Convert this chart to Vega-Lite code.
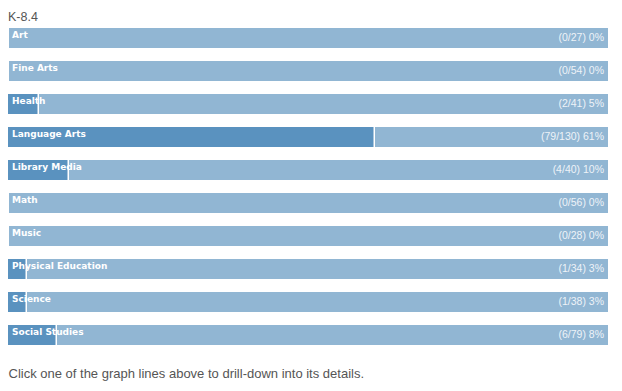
{
  "$schema": "https://vega.github.io/schema/vega-lite/v6.json",
  "autosize": "none",
  "width": 600,
  "height": 317,
  "padding": {"left": 8, "top": 28, "right": 14, "bottom": 46},
  "background": "white",
  "title": {
    "text": "K-8.4",
    "anchor": "start",
    "frame": "group",
    "font": "Liberation Sans",
    "fontSize": 12.5,
    "fontWeight": "normal",
    "color": "#555555",
    "baseline": "alphabetic",
    "offset": 9,
    "dy": 15
  },
  "config": {"view": {"stroke": null}},
  "data": {
    "values": [
      {"subject": "Art", "correct": 0, "total": 27, "pct": 0},
      {"subject": "Fine Arts", "correct": 0, "total": 54, "pct": 0},
      {"subject": "Health", "correct": 2, "total": 41, "pct": 5},
      {"subject": "Language Arts", "correct": 79, "total": 130, "pct": 61},
      {"subject": "Library Media", "correct": 4, "total": 40, "pct": 10},
      {"subject": "Math", "correct": 0, "total": 56, "pct": 0},
      {"subject": "Music", "correct": 0, "total": 28, "pct": 0},
      {"subject": "Physical Education", "correct": 1, "total": 34, "pct": 3},
      {"subject": "Science", "correct": 1, "total": 38, "pct": 3},
      {"subject": "Social Studies", "correct": 6, "total": 79, "pct": 8}
    ]
  },
  "encoding": {
    "y": {
      "field": "subject",
      "type": "nominal",
      "sort": null,
      "scale": {"paddingInner": 0.3939, "paddingOuter": 0},
      "axis": null
    }
  },
  "layer": [
    {
      "mark": {"type": "bar", "color": "#91b6d3"},
      "encoding": {
        "x": {
          "datum": 100,
          "type": "quantitative",
          "scale": {"domain": [0, 100], "nice": false, "zero": true},
          "axis": {
            "domain": false,
            "ticks": false,
            "labels": false,
            "grid": false,
            "title": "Click one of the graph lines above to drill-down into its details.",
            "titleAnchor": "start",
            "titleAlign": "left",
            "titleFont": "Liberation Sans",
            "titleFontSize": 13,
            "titleFontWeight": "normal",
            "titleColor": "#555555",
            "titleBaseline": "alphabetic",
            "titleX": 0,
            "titleY": 32
          }
        }
      }
    },
    {
      "mark": {"type": "bar", "color": "#5a92bf"},
      "encoding": {"x": {"field": "pct", "type": "quantitative"}}
    },
    {
      "mark": {"type": "bar", "fill": "white", "stroke": "white", "strokeWidth": 1, "xOffset": 0.5},
      "encoding": {
        "x": {"field": "pct", "type": "quantitative"},
        "x2": {"field": "pct"}
      }
    },
    {
      "mark": {
        "type": "text",
        "align": "left",
        "baseline": "alphabetic",
        "dx": 4,
        "font": "DejaVu Sans",
        "fontSize": 9,
        "fontWeight": "bold",
        "color": "white"
      },
      "encoding": {
        "x": {"datum": 0, "type": "quantitative"},
        "text": {"field": "subject"}
      }
    },
    {
      "transform": [
        {"calculate": "'(' + datum.correct + '/' + datum.total + ') ' + datum.pct + '%'", "as": "label"}
      ],
      "mark": {
        "type": "text",
        "align": "right",
        "baseline": "middle",
        "dx": -4,
        "font": "Liberation Sans",
        "fontSize": 10.5,
        "color": "#eef3f8"
      },
      "encoding": {
        "x": {"datum": 100, "type": "quantitative"},
        "text": {"field": "label"}
      }
    }
  ]
}
